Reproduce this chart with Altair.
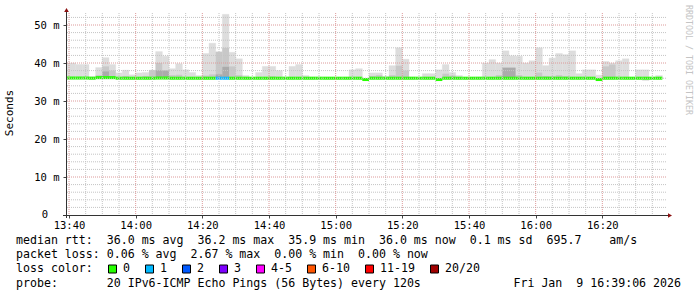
import altair as alt
import pandas as pd

N = None

# Each sample covers 2 minutes; start given in minutes after 13:40 (first one starts 13:38)
bin_start = list(range(-2, 178, 2))

# Smoke: slowest ping of each sample (ms)
smoke_max = [
    40.0, 40.0, 39.6, 39.6, 36.4, 38.8, 41.4, 39.6, 37.4, 38.1,
    36.9, 37.4, 37.5, 38.1, 43.0, 41.8, 38.5, 39.8, 38.2, 37.5,
    36.7, 42.5, 45.2, 43.0, 52.8, 42.8, 41.1, 36.7, 36.0, 37.5,
    39.1, 39.1, 38.0, 36.3, 39.1, 39.6, 36.7, 36.3, 36.3, 36.2,
    36.2, 36.1, 36.1, 38.2, 38.5, 36.0, 37.4, 37.4, 36.5, 39.3,
    44.0, 41.0, 36.3, 36.0, 37.2, 37.2, 38.2, 39.6, 37.5, 36.7,
    36.0, 36.2, 36.3, 40.0, 40.9, 40.0, 43.2, 41.9, 41.8, 40.0,
    40.6, 44.0, 39.3, 41.3, 42.5, 42.2, 43.2, 37.2, 38.2, 38.2,
    36.8, 40.4, 40.0, 40.6, 41.1, 36.0, 38.2, 38.2, 36.0, 36.7,
]
# Inner smoke band (denser pings)
smoke_mid = [
    N, N, N, N, N, 36.8, 39.1, 38.0, N, 36.6,
    N, N, 36.6, 38.1, 40.0, 38.1, 36.8, 36.9, N, N,
    N, 36.7, 37.0, 42.9, 44.0, 39.1, 36.8, N, N, N,
    N, 36.5, N, N, N, N, N, N, N, N,
    N, N, N, N, N, N, 36.6, 36.8, N, 36.8,
    39.3, 38.0, N, N, N, N, N, 37.2, 36.7, N,
    N, N, N, N, N, 36.8, N, N, 36.8, N,
    N, 37.5, 36.6, 36.5, 36.8, 36.5, N, N, N, N,
    N, 39.1, 39.6, N, N, N, N, N, N, N,
]
# Densest smoke band
smoke_dark = [
    N, N, N, N, N, N, 37.8, N, N, N,
    N, N, N, N, 38.1, 38.0, N, N, N, N,
    N, N, N, 37.0, 39.0, N, N, N, N, N,
    N, N, N, N, N, N, N, N, N, N,
    N, N, N, N, N, N, N, N, N, N,
    N, N, N, N, N, N, N, N, N, N,
    N, N, N, N, N, N, 38.8, 38.8, N, N,
    N, N, N, N, N, N, N, N, N, N,
    N, N, N, N, N, N, N, N, N, N,
]
# Fastest ping of each sample
smoke_min = [
    35.8, 35.8, 35.8, 35.8, 35.8, 35.8, 35.8, 35.8, 35.8, 35.8,
    35.8, 35.8, 35.8, 35.8, 35.8, 35.8, 35.8, 35.8, 35.8, 35.8,
    35.8, 35.8, 35.8, 35.8, 35.8, 35.8, 35.8, 35.8, 35.8, 35.8,
    35.8, 35.8, 35.8, 35.8, 35.8, 35.8, 35.8, 35.8, 35.8, 35.8,
    35.8, 35.8, 35.8, 35.8, 35.8, 35.5, 35.8, 35.8, 35.8, 35.8,
    35.8, 35.8, 35.8, 35.8, 35.8, 35.8, 35.5, 35.8, 35.8, 35.8,
    35.8, 35.8, 35.8, 35.8, 35.8, 35.8, 35.8, 35.8, 35.8, 35.8,
    35.8, 35.8, 35.8, 35.8, 35.8, 35.8, 35.8, 35.8, 35.8, 35.8,
    35.5, 35.8, 35.8, 35.8, 35.8, 35.8, 35.8, 35.4, 35.8, 35.8,
]
# Median round-trip time per sample (ms)
median_rtt = [
    36.05, 36.05, 36.05, 36.05, 36.0, 36.15, 36.15, 36.15, 36.0, 36.0,
    36.0, 36.0, 36.0, 36.0, 36.05, 36.05, 36.0, 36.0, 36.0, 36.0,
    36.0, 36.0, 36.0, 36.0, 36.0, 36.0, 36.0, 36.0, 36.0, 36.0,
    36.0, 36.0, 36.0, 36.0, 36.0, 36.0, 36.0, 36.0, 36.0, 36.0,
    36.0, 36.0, 36.0, 36.0, 36.0, 35.65, 36.0, 36.0, 36.0, 36.0,
    36.0, 36.0, 36.0, 36.0, 36.0, 36.0, 35.65, 36.0, 36.0, 36.0,
    36.0, 36.0, 36.0, 36.0, 36.0, 36.0, 36.0, 36.0, 36.0, 36.0,
    36.0, 36.0, 36.0, 36.0, 36.0, 36.0, 36.0, 36.0, 36.0, 36.0,
    35.65, 36.0, 36.0, 36.0, 36.0, 36.0, 36.0, 36.0, 36.0, 36.0,
]
# Lost pings out of 20 per sample
loss_count = [0] * 23 + [1, 1] + [0] * 65

loss_labels = ["0", "1", "2", "3", "4-5", "6-10", "11-19", "20/20"]
loss_colors = ["#26ff00", "#00b8ff", "#0059ff", "#7e00ff", "#ff00ff", "#ff5500", "#ff0000", "#a00000"]

stats_rtt = "median rtt:  36.0 ms avg  36.2 ms max  35.9 ms min  36.0 ms now  0.1 ms sd  695.7    am/s"
stats_loss = "packet loss: 0.06 % avg  2.67 % max  0.00 % min  0.00 % now"
probe_text = "probe:       20 IPv6-ICMP Echo Pings (56 Bytes) every 120s"
stamp_text = "Fri Jan  9 16:39:06 2026"
watermark = "RRDTOOL / TOBI OETIKER"

# ---- layout -------------------------------------------------------------
PAD_L, PAD_T = 66, 13
W, H = 600, 202
X_DOMAIN = [-0.9, 179.1]
Y_MAX = 53.16
MONO = "DejaVu Sans Mono"
NB = "\u00a0"


def loss_bucket(n):
    if n <= 3:
        return str(n)
    if n <= 5:
        return "4-5"
    if n <= 10:
        return "6-10"
    if n <= 19:
        return "11-19"
    return "20/20"


df = pd.DataFrame({
    "start": bin_start,
    "lo": smoke_min,
    "hi": smoke_max,
    "mid": smoke_mid,
    "dark": smoke_dark,
    "median": median_rtt,
    "loss": [loss_bucket(n) for n in loss_count],
})
df["end"] = df["start"] + 2

xs = alt.Scale(domain=X_DOMAIN, nice=False, zero=False)
ys = alt.Scale(domain=[0, Y_MAX], nice=False, zero=True)

x_axis = alt.Axis(
    values=list(range(0, 161, 20)),
    labelExpr="format(floor((820 + datum.value) / 60), '02d') + ':' + format((820 + datum.value) % 60, '02d')",
    grid=False, domain=False, tickSize=3, tickColor="#444",
    labelFont=MONO, labelFontSize=10.5, labelColor="#000", labelPadding=2,
    labelFlush=False, labelOverlap=False, title=None,
)
# the zero label is written separately, one column further left
y_axis = alt.Axis(
    values=list(range(0, 51, 10)),
    labelExpr=f"datum.value == 0 ? '' : datum.value + '{NB}m'",
    grid=False, domain=False, tickSize=3, tickColor="#444",
    labelFont=MONO, labelFontSize=10.5, labelColor="#000", labelPadding=4,
    title=None,
)

# ---- smoke and median --------------------------------------------------
smoke_light = alt.Chart(df).mark_rect(color="#dddddd", stroke="#dddddd", strokeWidth=0.4, clip=True).encode(
    x=alt.X("start:Q", scale=xs, axis=x_axis),
    x2="end:Q",
    y=alt.Y("lo:Q", scale=ys, axis=y_axis),
    y2="hi:Q",
)
smoke_medium = alt.Chart(df.dropna(subset=["mid"])).mark_rect(color="#c8c8c8", clip=True).encode(
    x=alt.X("start:Q", scale=xs), x2="end:Q",
    y=alt.Y("lo:Q", scale=ys), y2="mid:Q",
)
smoke_dense = alt.Chart(df.dropna(subset=["dark"])).mark_rect(color="#ababab", clip=True).encode(
    x=alt.X("start:Q", scale=xs), x2="end:Q",
    y=alt.Y("lo:Q", scale=ys), y2="dark:Q",
)
median_line = alt.Chart(df).mark_rule(strokeWidth=3, strokeCap="butt", clip=True).encode(
    x=alt.X("start:Q", scale=xs), x2="end:Q",
    y=alt.Y("median:Q", scale=ys),
    color=alt.Color("loss:N", scale=alt.Scale(domain=loss_labels, range=loss_colors), legend=None),
)

# ---- grid ---------------------------------------------------------------
v_minor = pd.DataFrame({"m": [m for m in range(0, 180, 5) if m % 20]})
v_major = pd.DataFrame({"m": list(range(0, 161, 20))})
h_minor = pd.DataFrame({"v": [v for v in range(2, 53, 2) if v % 10]})
h_major = pd.DataFrame({"v": list(range(10, 51, 10))})

grid_minor_col, grid_major_col = "#c4c4c4", "#dc9a9a"
grid = [
    alt.Chart(v_minor).mark_rule(color=grid_minor_col, strokeDash=[1, 1], strokeWidth=1).encode(x=alt.X("m:Q", scale=xs)),
    alt.Chart(h_minor).mark_rule(color=grid_minor_col, strokeDash=[1, 1], strokeWidth=1).encode(y=alt.Y("v:Q", scale=ys)),
    alt.Chart(v_major).mark_rule(color=grid_major_col, strokeDash=[1, 1], strokeWidth=1).encode(x=alt.X("m:Q", scale=xs)),
    alt.Chart(h_major).mark_rule(color=grid_major_col, strokeDash=[1, 1], strokeWidth=1).encode(y=alt.Y("v:Q", scale=ys)),
]

# ---- axis lines with arrow heads --------------------------------------
one = pd.DataFrame({"k": [0]})
axis_col, arrow_col = "#333333", "#8b1010"
axes = [
    alt.Chart(one).mark_rule(color=axis_col, strokeWidth=1).encode(
        x=alt.value(0.5), y=alt.value(-2), y2=alt.value(H + 3)),
    alt.Chart(one).mark_rule(color=axis_col, strokeWidth=1).encode(
        x=alt.value(-3), x2=alt.value(W + 3), y=alt.value(H + 0.5)),
    alt.Chart(one).mark_point(shape="triangle-up", filled=True, size=22, color=arrow_col, opacity=1).encode(
        x=alt.value(0.5), y=alt.value(-3)),
    alt.Chart(one).mark_point(shape="triangle-right", filled=True, size=22, color=arrow_col, opacity=1).encode(
        x=alt.value(W + 4), y=alt.value(H + 0.5)),
]


def text_at(s, x, y, size=11.6, color="#000000", align="left", angle=0):
    """Text placed in canvas pixels."""
    return alt.Chart(pd.DataFrame({"s": [s.replace(" ", NB)]})).mark_text(
        font=MONO, fontSize=size, color=color, align=align, baseline="middle", angle=angle,
    ).encode(text="s:N", x=alt.value(x - PAD_L), y=alt.value(y - PAD_T))


texts = [
    text_at("0", 48, 215, size=10.5, align="right"),
    text_at("Seconds", 10, 113, size=11, angle=270, align="center"),
    text_at(watermark, 688, 5, size=8.3, color="#c4c4c4", angle=90),
    text_at(stats_rtt, 16, 241),
    text_at(stats_loss, 16, 255),
    text_at("loss color:", 16, 269),
    text_at(probe_text, 16, 283.5),
    text_at(stamp_text, 681, 283.5, align="right"),
]

# loss colour legend: swatch, then its label, in monospace columns
swatches = []
cx = 108.5
for lab, col in zip(loss_labels, loss_colors):
    swatches.append(
        alt.Chart(one).mark_rect(color=col, stroke="#000000", strokeWidth=1).encode(
            x=alt.value(cx - PAD_L), x2=alt.value(cx + 8 - PAD_L),
            y=alt.value(265 - PAD_T), y2=alt.value(273 - PAD_T))
    )
    swatches.append(text_at(lab, cx + 14.5, 269))
    cx += 14.5 + 7.0 * len(lab) + 15.5

chart = alt.layer(
    smoke_light, smoke_medium, smoke_dense, median_line, *grid, *axes, *texts, *swatches
).properties(
    width=W, height=H,
    padding={"left": PAD_L, "top": PAD_T, "right": 697 - PAD_L - W, "bottom": 297 - PAD_T - H},
    autosize=alt.AutoSizeParams(type="none"),
    background="white",
).configure_view(strokeWidth=0)

chart.save("out.html", embed_options={"renderer": "svg", "actions": False})
